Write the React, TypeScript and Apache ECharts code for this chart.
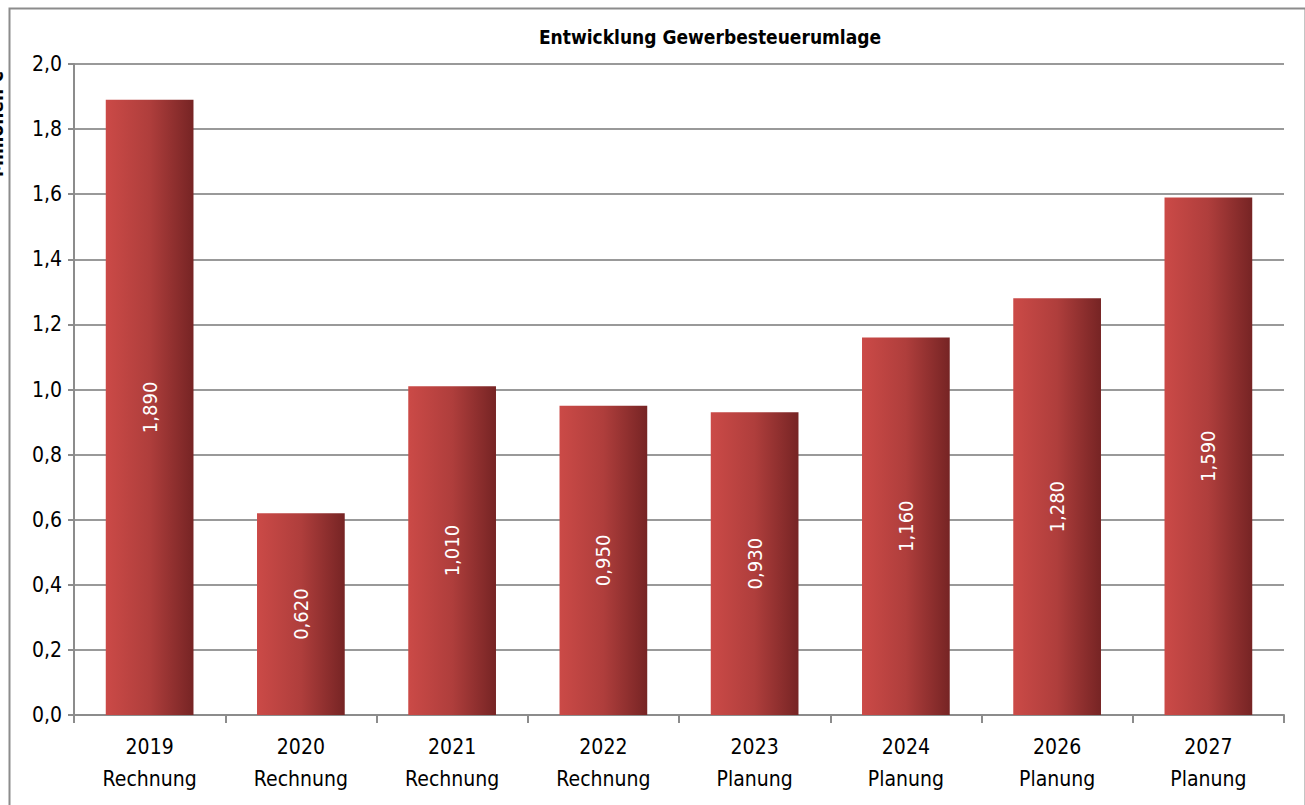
import React, { useEffect, useRef } from "react";
import * as echarts from "echarts";

const years = ["2019", "2020", "2021", "2022", "2023", "2024", "2026", "2027"];
const kinds = ["Rechnung", "Rechnung", "Rechnung", "Rechnung", "Planung", "Planung", "Planung", "Planung"];
const values = [1.89, 0.62, 1.01, 0.95, 0.93, 1.16, 1.28, 1.59];
const title = "Entwicklung Gewerbesteuerumlage";
const yName = "Millionen €";

const FONT = "'DejaVu Sans Condensed', 'Liberation Sans Narrow', 'Noto Sans', sans-serif";

export default function App() {
  const ref = useRef<HTMLDivElement>(null);
  useEffect(() => {
    document.body.style.margin = "0";
    if (!ref.current) return;
    const chart = echarts.init(ref.current, undefined, { renderer: "svg" });
    const categories = years.map((y, i) => y + "\n" + kinds[i]);
    chart.setOption({
      animation: false,
      backgroundColor: "#ffffff",
      textStyle: { fontFamily: FONT },
      title: {
        text: title,
        left: 705,
        textAlign: "center",
        top: 22,
        textStyle: { fontFamily: FONT, fontSize: 19, fontWeight: "bold", color: "#000" },
      },
      grid: { left: 74, right: 21, top: 64, bottom: 90, containLabel: false },
      xAxis: {
        type: "category",
        data: categories,
        axisLine: { lineStyle: { color: "#8c8c8c", width: 2 } },
        axisTick: { show: true, alignWithLabel: false, length: 8, lineStyle: { color: "#8c8c8c", width: 2 } },
        axisLabel: {
          color: "#000",
          fontSize: 21,
          fontFamily: FONT,
          lineHeight: 32,
          margin: 16,
          interval: 0,
        },
      },
      yAxis: {
        type: "value",
        min: 0,
        max: 2,
        interval: 0.2,
        axisLine: { show: true, lineStyle: { color: "#8c8c8c", width: 2 } },
        axisTick: { show: true, length: 6, lineStyle: { color: "#8c8c8c", width: 2 } },
        splitLine: { show: true, lineStyle: { color: "#999999", width: 2 } },
        axisLabel: {
          color: "#000",
          fontSize: 21,
          fontFamily: FONT,
          margin: 12,
          formatter: (v: number) => v.toFixed(1).replace(".", ","),
        },
      },
      series: [
        {
          type: "bar",
          data: values,
          barWidth: "58%",
          itemStyle: {
            color: new echarts.graphic.LinearGradient(0, 0, 1, 0, [
              { offset: 0, color: "#CB4A47" },
              { offset: 0.5, color: "#AF3E3C" },
              { offset: 1, color: "#762424" },
            ]),
          },
          label: {
            show: true,
            position: "inside",
            rotate: 90,
            color: "#ffffff",
            fontSize: 20,
            fontFamily: FONT,
            formatter: (p: any) => (p.value as number).toFixed(3).replace(".", ","),
          },
        },
      ],
      graphic: [
        {
          type: "rect",
          left: 7,
          top: 6,
          shape: { x: 0, y: 0, width: 1296, height: 810 },
          style: { fill: "none", stroke: "#8c8c8c", lineWidth: 2 },
          silent: true,
          z: 100,
        },
        {
          type: "text",
          x: -4,
          y: 124,
          rotation: Math.PI / 2,
          style: {
            text: yName,
            fontFamily: FONT,
            fontSize: 19,
            fontWeight: "bold",
            fill: "#000",
            align: "center",
            verticalAlign: "middle",
          },
          z: 50,
        },
      ],
    });
    return () => chart.dispose();
  }, []);
  return <div ref={ref} style={{ width: 1305, height: 805 }} />;
}
